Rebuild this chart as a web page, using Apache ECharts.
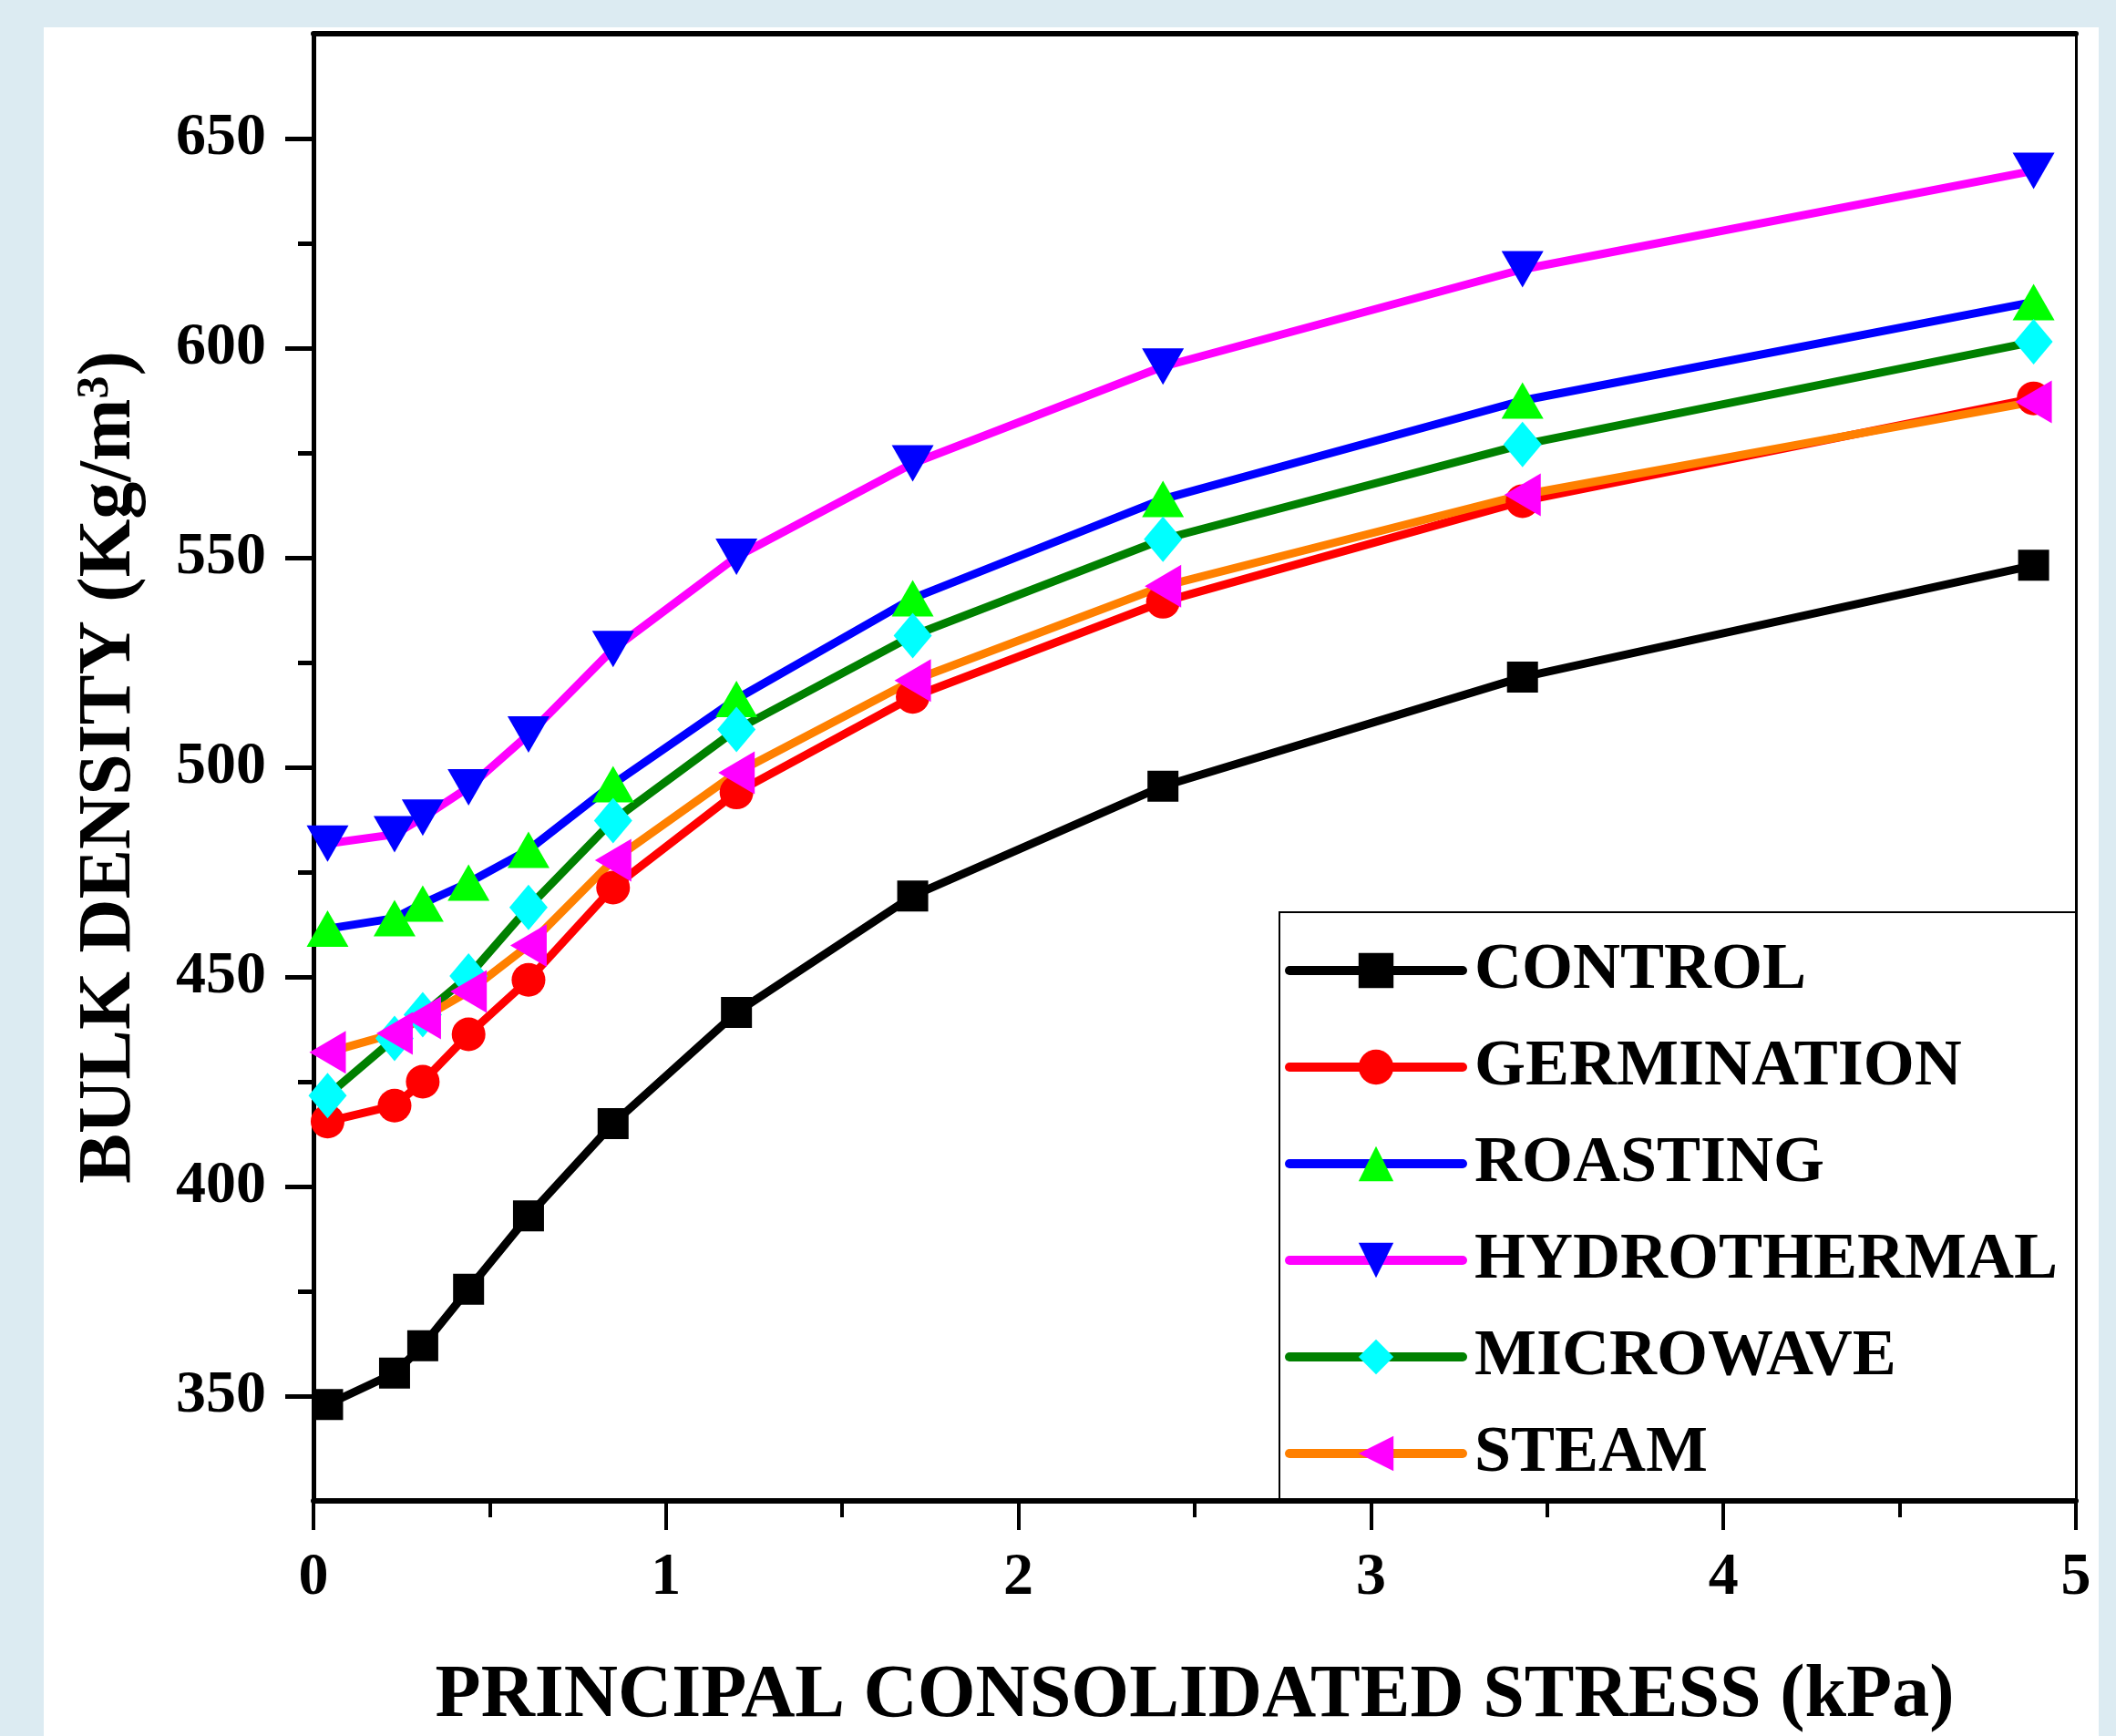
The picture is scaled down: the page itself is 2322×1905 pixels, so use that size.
<!DOCTYPE html>
<html>
<head>
<meta charset="utf-8">
<title>Bulk density vs principal consolidated stress</title>
<script src="https://cdn.jsdelivr.net/npm/echarts@6/dist/echarts.min.js"></script>
<style>
  html, body { margin: 0; padding: 0; background: #dcebf2; }
  #panel { position: absolute; left: 48px; top: 30px; width: 2255px; height: 1875px; background: #fff; }
  #chart { position: absolute; left: 0; top: 0; width: 2322px; height: 1905px; }
</style>
</head>
<body>
<div id="panel"></div>
<div id="chart"></div>
<script>
// principal consolidated stress (kPa)
var stress = [0.04, 0.23, 0.31, 0.44, 0.61, 0.85, 1.2, 1.7, 2.41, 3.43, 4.88];

// bulk density (kg/m3)
var control      = [348, 355.5, 362, 375.5, 393, 415, 441.5, 469.3, 495.5, 521.5, 548.2];
var germination  = [415.5, 419.3, 425, 436.3, 449.3, 471.3, 494, 516.8, 539.5, 563.5, 588];
var roasting     = [461.5, 464, 467.5, 472.5, 480.3, 496, 516.3, 540.3, 564, 587.5, 611];
var hydrothermal = [481.8, 484, 488, 495.2, 507.8, 528.2, 550.2, 572.5, 595.6, 618.8, 642.3];
var microwave    = [421.7, 435.3, 441, 450.2, 466.6, 487.3, 509, 531.4, 554.4, 577, 601.5];
var steam        = [432, 436.5, 440.2, 446.5, 457.5, 477.8, 498.7, 520.7, 543.2, 565, 587.2];

var names = ['CONTROL', 'GERMINATION', 'ROASTING', 'HYDROTHERMAL', 'MICROWAVE', 'STEAM'];

// y ticks: long ones carry labels, short ones in between
var yMajorTicks = [350, 400, 450, 500, 550, 600, 650];
var yMinorTicks = [375, 425, 475, 525, 575, 625];

var serif = "'Liberation Serif', 'Times New Roman', serif";

function pairs(vals) {
  return stress.map(function(x, i) { return [x, vals[i]]; });
}

function makeSeries(name, vals, lineColor, symbol, symbolColor, size, rotate) {
  return {
    name: name,
    type: 'line',
    data: pairs(vals),
    symbol: symbol,
    symbolSize: size,
    symbolRotate: rotate || 0,
    lineStyle: { color: lineColor, width: 9 },
    itemStyle: { color: symbolColor, borderWidth: 0 },
    emphasis: { disabled: true }
  };
}

var chart = echarts.init(document.getElementById('chart'));

var option = {
  backgroundColor: 'transparent',
  animation: false,
  grid: { left: 344, right: 44, top: 37, bottom: 258, outerBoundsMode: 'none' },
  legend: {
    orient: 'vertical',
    left: 1410,
    top: 1025,
    padding: 0,
    itemGap: 26,
    itemWidth: 190,
    itemHeight: 48,
    data: names,
    lineStyle: { width: 10, cap: 'round' },
    textStyle: {
      fontFamily: serif, fontWeight: 'bold', fontSize: 72, color: '#000',
      lineHeight: 80, padding: [0, 0, 0, 8]
    },
    selectedMode: false
  },
  graphic: [{
    type: 'rect',
    shape: { x: 1404, y: 1001, width: 874, height: 646 },
    style: { fill: 'none', stroke: '#000', lineWidth: 2 },
    z: 1
  }],
  xAxis: [{
    type: 'value', min: 0, max: 5, interval: 1, position: 'bottom',
    axisLine: { show: true, onZero: false, lineStyle: { color: '#000', width: 6 } },
    axisTick: { show: true, length: 32, lineStyle: { color: '#000', width: 4 } },
    minorTick: { show: true, splitNumber: 2, length: 18, lineStyle: { color: '#000', width: 4 } },
    splitLine: { show: false },
    axisLabel: { fontFamily: serif, fontWeight: 'bold', fontSize: 66, color: '#000', margin: 52 },
    name: 'PRINCIPAL CONSOLIDATED STRESS (kPa)',
    nameLocation: 'middle',
    nameGap: 174,
    nameTextStyle: { fontFamily: serif, fontWeight: 'bold', fontSize: 82, color: '#000' }
  }, {
    type: 'value', min: 0, max: 5, position: 'top',
    axisLine: { show: true, onZero: false, lineStyle: { color: '#000', width: 6 } },
    axisTick: { show: false }, axisLabel: { show: false }, splitLine: { show: false }
  }],
  yAxis: [{
    type: 'value', min: 325, max: 675, position: 'left',
    axisLine: { show: true, onZero: false, lineStyle: { color: '#000', width: 5 } },
    axisTick: { show: true, length: 31, customValues: yMajorTicks, lineStyle: { color: '#000', width: 5 } },
    axisLabel: {
      customValues: yMajorTicks,
      fontFamily: serif, fontWeight: 'bold', fontSize: 66, color: '#000', margin: 52
    },
    splitLine: { show: false },
    name: 'BULK DENSITY (Kg/m{sup|3})',
    nameLocation: 'middle',
    nameRotate: 90,
    nameGap: 182,
    nameTextStyle: {
      fontFamily: serif, fontWeight: 'bold', fontSize: 82, color: '#000',
      rich: {
        sup: { fontFamily: serif, fontWeight: 'bold', fontSize: 50, color: '#000', verticalAlign: 'top', lineHeight: 82 }
      }
    }
  }, {
    type: 'value', min: 325, max: 675, position: 'left',
    axisLine: { show: false },
    axisTick: { show: true, length: 17, customValues: yMinorTicks, lineStyle: { color: '#000', width: 5 } },
    axisLabel: { show: false }, splitLine: { show: false }
  }, {
    type: 'value', min: 325, max: 675, position: 'right',
    axisLine: { show: true, onZero: false, lineStyle: { color: '#000', width: 3 } },
    axisTick: { show: false }, axisLabel: { show: false }, splitLine: { show: false }
  }],
  series: [
    makeSeries('CONTROL', control, '#000000', 'rect', '#000000', [34, 34]),
    makeSeries('GERMINATION', germination, '#ff0000', 'circle', '#ff0000', 37),
    makeSeries('ROASTING', roasting, '#0000ff', 'triangle', '#00ff00', [46, 40]),
    makeSeries('HYDROTHERMAL', hydrothermal, '#ff00ff', 'triangle', '#0000ff', [46, 40], 180),
    makeSeries('MICROWAVE', microwave, '#008000', 'diamond', '#00ffff', [42, 50]),
    makeSeries('STEAM', steam, '#ff8000', 'triangle', '#ff00ff', [47, 40], 90)
  ]
};

chart.setOption(option);
</script>
</body>
</html>
